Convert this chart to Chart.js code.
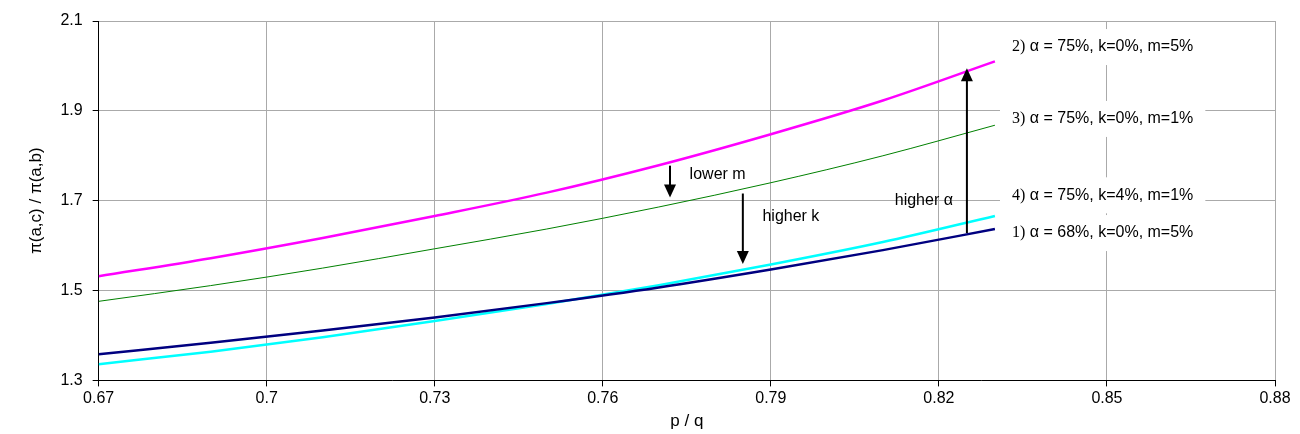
<!DOCTYPE html>
<html><head><meta charset="utf-8">
<script src="https://cdn.jsdelivr.net/npm/chart.js@4.4.0/dist/chart.umd.min.js"></script>
<style>body{margin:0;background:#fff}#wrap{width:1300px;height:434px}</style>
</head><body><div id="wrap"><canvas id="c"></canvas></div>
<script>
// p/q values
const xs = [0.67, 0.69, 0.71, 0.73, 0.75, 0.77, 0.79, 0.81, 0.83];
const s1 = [1.358, 1.384, 1.411, 1.440, 1.472, 1.507, 1.547, 1.590, 1.637]; // a=68 k=0 m=5
const s2 = [1.532, 1.572, 1.617, 1.666, 1.718, 1.779, 1.848, 1.923, 2.010]; // a=75 k=0 m=5
const s3 = [1.476, 1.511, 1.550, 1.593, 1.637, 1.686, 1.740, 1.800, 1.868]; // a=75 k=0 m=1
const s4 = [1.336, 1.364, 1.396, 1.432, 1.470, 1.512, 1.558, 1.608, 1.666]; // a=75 k=4 m=1
const xTicks = [0.67, 0.7, 0.73, 0.76, 0.79, 0.82, 0.85, 0.88];
const labels = [
  {num: '2)', text: ' α = 75%, k=0%, m=5%', y: 2.042},
  {num: '3)', text: ' α = 75%, k=0%, m=1%', y: 1.882},
  {num: '4)', text: ' α = 75%, k=4%, m=1%', y: 1.712},
  {num: '1)', text: ' α = 68%, k=0%, m=5%', y: 1.628}
];
const arrows = [
  {x: 0.772, from: 1.778, to: 1.707, text: 'lower m', tx: 0.7755, ty: 1.757, align: 'left'},
  {x: 0.785, from: 1.716, to: 1.559, text: 'higher k', tx: 0.7885, ty: 1.664, align: 'left'},
  {x: 0.825, from: 1.628, to: 1.995, text: 'higher α', tx: 0.8225, ty: 1.700, align: 'right'}
];
const pts = a => xs.map((x, i) => ({x: x, y: a[i]}));

const overlay = {
  id: 'overlay',
  afterDatasetsDraw(chart) {
    const ctx = chart.ctx, xa = chart.scales.x, ya = chart.scales.y;
    ctx.save();
    ctx.strokeStyle = '#000'; ctx.fillStyle = '#000'; ctx.lineWidth = 2;
    ctx.font = '16px Arial, "Liberation Sans"'; ctx.textBaseline = 'middle';
    arrows.forEach(a => {
      const px = xa.getPixelForValue(a.x), y0 = ya.getPixelForValue(a.from), y1 = ya.getPixelForValue(a.to);
      const dir = y1 > y0 ? 1 : -1;
      ctx.beginPath(); ctx.moveTo(px, y0); ctx.lineTo(px, y1 - dir * 10); ctx.stroke();
      ctx.beginPath(); ctx.moveTo(px, y1); ctx.lineTo(px - 6, y1 - dir * 13); ctx.lineTo(px + 6, y1 - dir * 13); ctx.closePath(); ctx.fill();
      ctx.textAlign = a.align;
      ctx.fillText(a.text, xa.getPixelForValue(a.tx), ya.getPixelForValue(a.ty));
    });
    labels.forEach(l => {
      const x0 = 1012, y = ya.getPixelForValue(l.y);
      ctx.font = '16px "Liberation Serif", "Times New Roman"';
      const w1 = ctx.measureText(l.num).width;
      ctx.font = '16px Arial, "Liberation Sans"';
      const w2 = ctx.measureText(l.text).width;
      ctx.fillStyle = '#fff';
      ctx.fillRect(x0 - 12, y - 18, w1 + w2 + 24, 36);
      ctx.fillStyle = '#000'; ctx.textAlign = 'left';
      ctx.font = '16px "Liberation Serif", "Times New Roman"';
      ctx.fillText(l.num, x0, y);
      ctx.font = '16px Arial, "Liberation Sans"';
      ctx.fillText(l.text, x0 + w1, y);
    });
    ctx.restore();
  }
};

new Chart(document.getElementById('c'), {
  type: 'line',
  data: {datasets: [
    {data: pts(s1), borderColor: '#000080', borderWidth: 2.5},
    {data: pts(s2), borderColor: '#ff00ff', borderWidth: 2.5},
    {data: pts(s3), borderColor: '#008000', borderWidth: 1},
    {data: pts(s4), borderColor: '#00ffff', borderWidth: 2.5}
  ]},
  options: {
    responsive: true, maintainAspectRatio: false, animation: false,
    layout: {padding: {top: 21, right: 25, left: 22, bottom: 2}},
    elements: {point: {radius: 0}, line: {tension: 0.4, cubicInterpolationMode: 'monotone'}},
    plugins: {legend: {display: false}, tooltip: {enabled: false}},
    scales: {
      x: {type: 'linear', min: 0.67, max: 0.88,
        afterBuildTicks: s => { s.ticks = xTicks.map(v => ({value: v})); },
        ticks: {color: '#000', font: {size: 16, family: 'Arial'}, callback: v => String(+v.toFixed(2))},
        grid: {color: '#aaa', tickColor: '#000', tickLength: 6},
        border: {color: '#000'},
        title: {display: true, text: 'p / q', color: '#000', font: {size: 17, family: 'Arial'}, padding: 0}},
      y: {min: 1.3, max: 2.1,
        ticks: {stepSize: 0.2, color: '#000', font: {size: 16, family: 'Arial'}, padding: 10, callback: v => String(+v.toFixed(1))},
        grid: {color: '#aaa', tickColor: '#000', tickLength: 6},
        border: {color: '#000'},
        title: {display: true, text: 'π(a,c) / π(a,b)', color: '#000', font: {size: 17, family: 'Arial'}}}
    }
  },
  plugins: [overlay]
});
</script></body></html>
